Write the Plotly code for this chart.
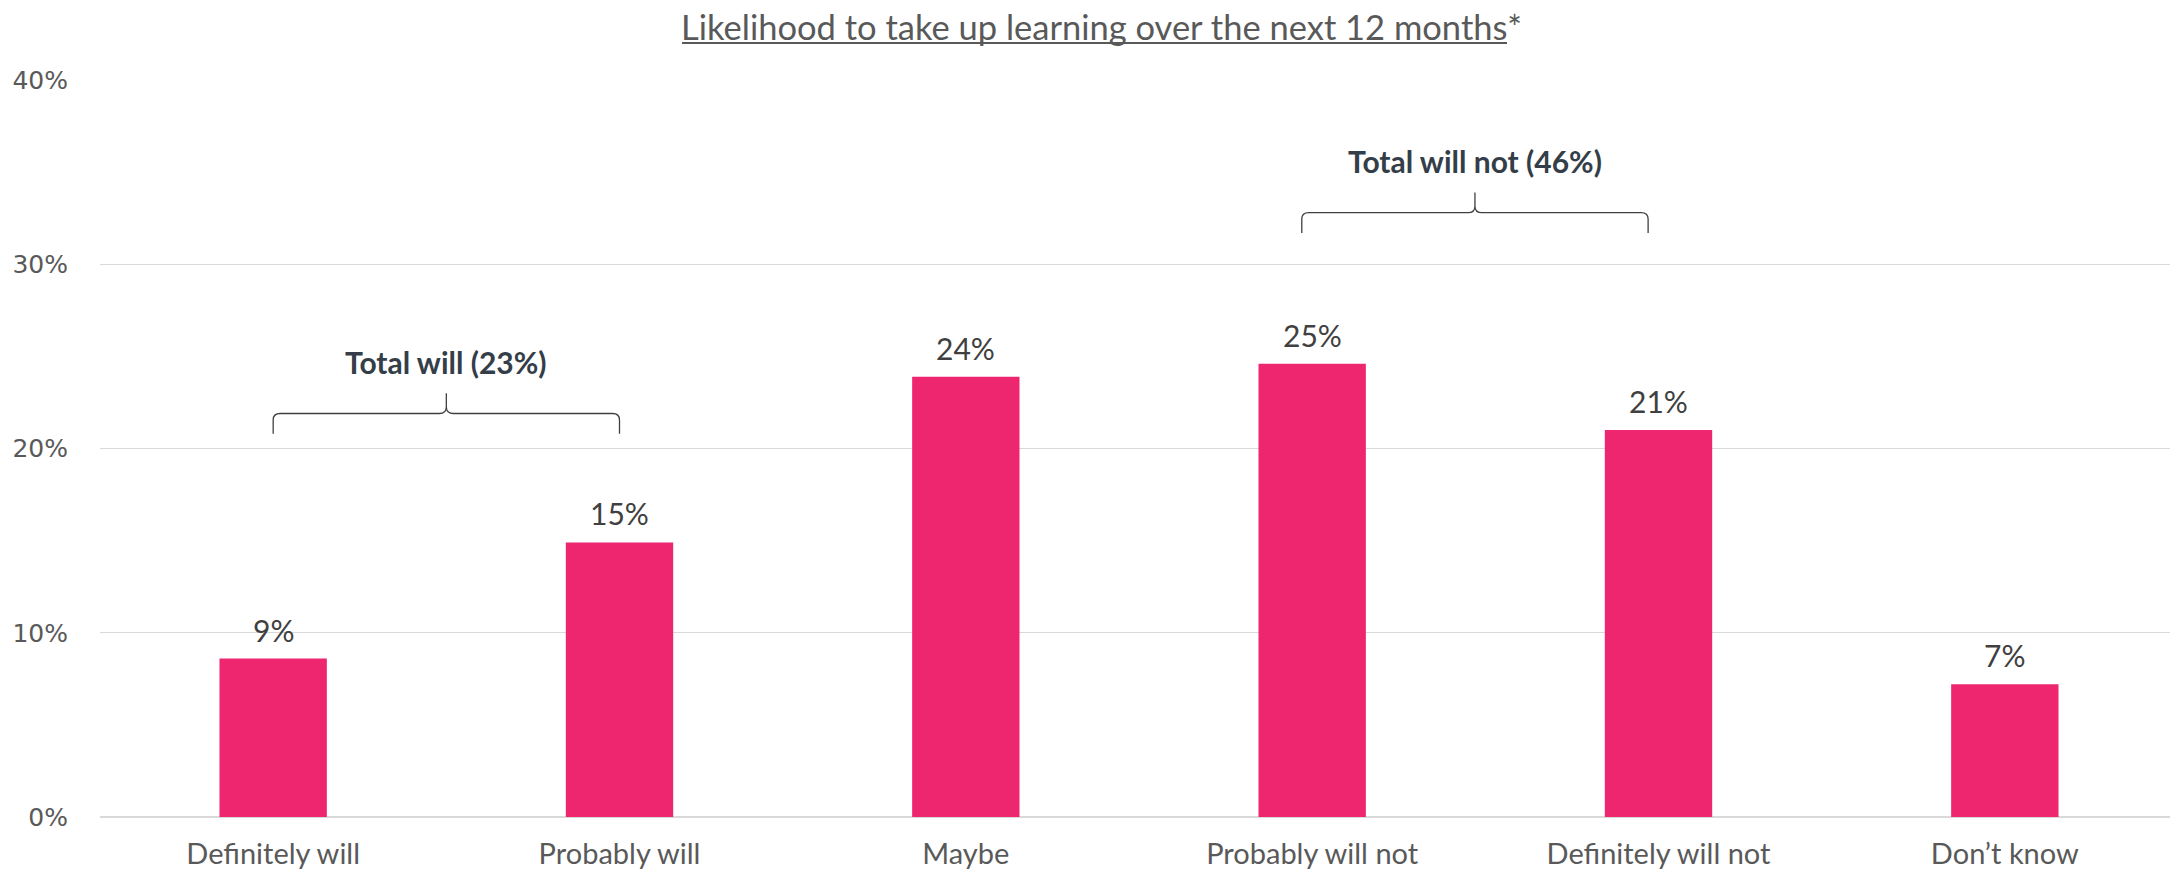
import plotly.graph_objects as go

categories = ["Definitely will", "Probably will", "Maybe", "Probably will not", "Definitely will not", "Don\u2019t know"]
values = [8.6, 14.9, 23.9, 24.6, 21.0, 7.2]
y_ticks = [0, 10, 20, 30, 40]
y_tick_labels = ["0%", "10%", "20%", "30%", "40%"]
title_text = "Likelihood to take up learning over the next 12 months*"
group_labels = ["Total will (23%)", "Total will not (46%)"]
group_spans = [(0.0, 1.0), (2.97, 3.97)]
group_levels = [21.9, 32.8]

BAR = "#EE2670"
GRAY = "#595959"
DARK = "#343E48"
FONT = "Lato"

W, H = 2170, 865
ML, MR, MT, MB = 92, 0, 72, 56
PW, PH = W - ML - MR, H - MT - MB


def px_x(x):
    return (x - ML) / PW


def px_y(y):
    return 1 + (MT - y) / PH


xs = list(range(len(categories)))
fig = go.Figure()
fig.add_trace(go.Bar(x=xs, y=values, width=0.31, marker=dict(color=BAR, line=dict(width=0)),
                     hoverinfo="skip"))

annotations = []
for x, v in zip(xs, values):
    annotations.append(dict(x=x, y=v, xref="x", yref="y", text=f"{round(v)}%", showarrow=False,
                            yshift=29, font=dict(family=FONT, size=30, color="#404040")))

shapes = []
for label, (a, b), lvl in zip(group_labels, group_spans, group_levels):
    m = (a + b) / 2
    dx = 0.02
    end = lvl - 1.1
    tip = lvl + 1.1
    d = 0.35
    path = (f"M {a},{end} L {a},{lvl - d} Q {a},{lvl} {a + dx},{lvl} "
            f"L {m - dx},{lvl} Q {m},{lvl} {m},{lvl + d} L {m},{tip} "
            f"M {m},{lvl + d} Q {m},{lvl} {m + dx},{lvl} "
            f"L {b - dx},{lvl} Q {b},{lvl} {b},{lvl - d} L {b},{end}")
    shapes.append(dict(type="path", xref="x", yref="y", path=path,
                       line=dict(color="#404040", width=1.3)))
    annotations.append(dict(x=m, y=lvl + 2.8, xref="x", yref="y", text=f"<b>{label}</b>",
                            showarrow=False, font=dict(family=FONT, size=30, color=DARK)))

# chart title + its underline
annotations.append(dict(x=px_x(1093), y=px_y(19), xref="paper", yref="paper",
                        xanchor="center", yanchor="middle", showarrow=False,
                        text=title_text,
                        font=dict(family=FONT, size=34.5, color=GRAY)))
shapes.append(dict(type="line", xref="paper", yref="paper",
                   x0=px_x(674), x1=px_x(1499), y0=px_y(35), y1=px_y(35),
                   line=dict(color=GRAY, width=2)))

fig.update_layout(
    width=W, height=H,
    margin=dict(l=ML, r=MR, t=MT, b=MB),
    paper_bgcolor="white", plot_bgcolor="white",
    showlegend=False,
    annotations=annotations,
    shapes=shapes,
    xaxis=dict(range=[-0.5, 5.5], tickmode="array", tickvals=xs, ticktext=categories,
               showgrid=False, zeroline=False, showline=False, ticks="",
               ticklabelstandoff=17,
               tickfont=dict(family=FONT, size=29, color=GRAY), fixedrange=True),
    yaxis=dict(range=[0, 40], tickmode="array", tickvals=y_ticks, ticktext=y_tick_labels,
               showgrid=True, gridcolor="#D9D9D9", gridwidth=1.3, zeroline=True,
               zerolinecolor="#D9D9D9", zerolinewidth=2, showline=False, ticks="",
               ticklabelstandoff=31,
               tickfont=dict(family="DejaVu Sans", size=25, color=GRAY), fixedrange=True),
)
fig.write_html("out.html")
